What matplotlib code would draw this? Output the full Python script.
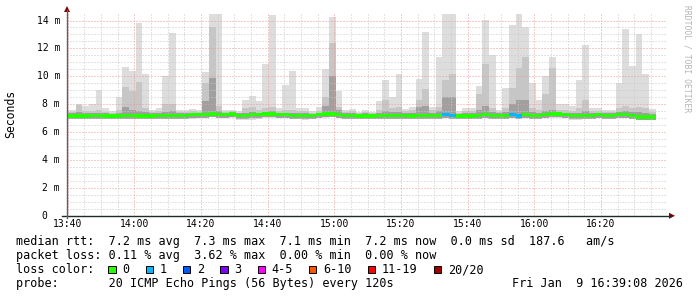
import numpy as np
import matplotlib
matplotlib.use("Agg")
from matplotlib import pyplot as plt
from matplotlib.lines import Line2D
from matplotlib.patches import Polygon, Rectangle
from matplotlib.transforms import blended_transform_factory


plt.rcParams["font.family"] = ["DejaVu Sans Mono"]

# canvas size in pixels
W, H = 697, 297

# time axis in minutes after 13:40, one sample every 2 min
X_START = -10 / 60          # 13:39:50
X_SPAN = 180
FIRST_EDGE = -1 - 35 / 60   # 13:38:25
STEP = 2

tick_minutes = [0, 20, 40, 60, 80, 100, 120, 140, 160]
tick_labels = ["13:40", "14:00", "14:20", "14:40", "15:00",
               "15:20", "15:40", "16:00", "16:20"]

y_ticks = [0, 2, 4, 6, 8, 10, 12, 14]
y_labels = ["0", "2 m", "4 m", "6 m", "8 m", "10 m", "12 m", "14 m"]

# smoke, in ms
rtt_max = [
    7.6, 7.6, 8.0, 7.85, 8.05, 9.0, 7.75, 7.5, 8.55, 10.7,
    10.35, 13.8, 10.15, 7.55, 7.7, 10.0, 13.1, 7.55, 7.6, 7.65,
    7.6, 10.3, 14.45, 14.45, 7.6, 7.6, 7.5, 8.3, 8.6, 8.2,
    10.85, 14.4, 7.7, 9.35, 10.4, 7.75, 7.75, 7.5, 7.8, 10.55,
    14.25, 8.95, 7.55, 7.65, 7.45, 7.6, 7.45, 8.25, 9.7, 8.5,
    10.15, 7.65, 7.8, 9.8, 13.15, 7.8, 11.35, 14.45, 14.45, 7.5,
    7.75, 7.75, 9.3, 14.05, 11.5, 7.55, 9.15, 13.7, 14.45, 13.5,
    9.5, 8.3, 10.05, 11.4, 8.0, 8.05, 7.85, 9.7, 12.25, 7.7,
    7.7, 7.55, 7.55, 9.55, 13.4, 10.75, 13.0, 10.15, 7.65,
]
rtt_mid = [
    7.45, 7.45, 7.95, 7.5, 7.5, 7.6, 7.45, 7.4, 7.6, 9.2,
    8.95, 9.6, 7.7, 7.45, 7.5, 8.0, 8.0, 7.45, 7.45, 7.5,
    7.45, 9.5, 13.5, 7.9, 7.45, 7.5, 7.4, 7.7, 7.8, 7.6,
    7.7, 7.8, 7.5, 7.6, 7.6, 7.5, 7.5, 7.4, 7.5, 8.5,
    12.4, 7.8, 7.45, 7.5, 7.35, 7.45, 7.35, 7.6, 8.3, 7.7,
    7.8, 7.5, 7.55, 8.3, 9.1, 7.55, 7.8, 9.7, 10.2, 7.4,
    7.5, 7.5, 8.7, 10.9, 7.7, 7.45, 7.7, 9.15, 10.6, 11.4,
    7.7, 7.6, 8.7, 10.6, 7.6, 7.6, 7.5, 7.7, 8.3, 7.5,
    7.5, 7.45, 7.45, 7.7, 7.85, 7.7, 7.8, 7.7, 7.45,
]
rtt_inner = [
    7.35, 7.35, 7.45, 7.35, 7.4, 7.4, 7.35, 7.3, 7.4, 7.8,
    7.6, 7.5, 7.45, 7.35, 7.4, 7.45, 7.5, 7.35, 7.35, 7.4,
    7.35, 8.2, 9.9, 7.5, 7.35, 7.4, 7.35, 7.4, 7.45, 7.4,
    7.45, 7.5, 7.4, 7.4, 7.4, 7.4, 7.4, 7.3, 7.4, 7.9,
    10.0, 7.6, 7.35, 7.4, 7.3, 7.35, 7.3, 7.4, 7.5, 7.45,
    7.45, 7.35, 7.4, 7.8, 7.9, 7.4, 7.5, 8.5, 8.5, 7.3,
    7.4, 7.4, 7.6, 7.9, 7.45, 7.35, 7.45, 8.0, 8.3, 8.3,
    7.45, 7.4, 7.5, 7.6, 7.45, 7.4, 7.35, 7.4, 7.5, 7.4,
    7.4, 7.35, 7.35, 7.45, 7.5, 7.45, 7.45, 7.4, 7.3,
]
rtt_min = [
    7.0, 7.0, 6.95, 7.0, 7.0, 7.0, 7.0, 7.0, 7.0, 7.0,
    6.95, 6.95, 7.0, 7.0, 7.0, 7.0, 7.0, 7.0, 7.0, 6.95,
    7.0, 7.0, 7.05, 7.0, 7.0, 7.0, 6.9, 6.9, 6.9, 6.95,
    7.0, 7.0, 7.0, 7.0, 6.95, 6.95, 6.9, 6.95, 7.0, 7.0,
    7.05, 7.0, 7.0, 7.0, 6.95, 7.0, 7.0, 7.0, 7.0, 7.0,
    7.0, 7.0, 7.0, 7.0, 7.0, 7.0, 7.0, 7.0, 7.0, 7.0,
    7.0, 7.0, 6.95, 7.0, 7.0, 7.0, 7.0, 7.0, 7.0, 7.0,
    7.0, 7.0, 7.0, 7.0, 7.0, 7.0, 6.9, 6.9, 6.95, 7.0,
    7.0, 7.0, 7.0, 7.0, 7.0, 7.0, 6.85, 6.85, 6.9,
]
rtt_median = [
    7.15, 7.15, 7.15, 7.15, 7.2, 7.2, 7.15, 7.15, 7.15, 7.2,
    7.2, 7.15, 7.15, 7.15, 7.2, 7.2, 7.2, 7.2, 7.2, 7.25,
    7.25, 7.25, 7.3, 7.25, 7.25, 7.3, 7.2, 7.2, 7.25, 7.25,
    7.3, 7.3, 7.25, 7.25, 7.2, 7.2, 7.2, 7.2, 7.25, 7.3,
    7.3, 7.25, 7.2, 7.2, 7.15, 7.15, 7.15, 7.2, 7.2, 7.2,
    7.2, 7.2, 7.15, 7.2, 7.2, 7.2, 7.2, 7.25, 7.2, 7.15,
    7.15, 7.15, 7.2, 7.25, 7.2, 7.2, 7.2, 7.25, 7.15, 7.25,
    7.2, 7.2, 7.25, 7.3, 7.3, 7.25, 7.2, 7.2, 7.2, 7.2,
    7.25, 7.2, 7.2, 7.25, 7.25, 7.2, 7.1, 7.1, 7.1,
]
# lost pings out of 20 per sample
loss = [0] * 89
for j in (57, 58, 67, 68):
    loss[j] = 1

loss_labels = ["0", "1", "2", "3", "4-5", "6-10", "11-19", "20/20"]
loss_upper = [0, 1, 2, 3, 5, 10, 19, 20]
loss_colors = ["#26ff00", "#00b8ff", "#0059ff", "#7e00ff",
               "#ff00ff", "#ff5500", "#ff0000", "#a10000"]

rtt_stat_names = ["avg", "max", "min", "now", "sd"]
rtt_stat_values = [7.2, 7.3, 7.1, 7.2, 0.0]
rtt_am_s = 187.6
loss_stat_names = ["avg", "max", "min", "now"]
loss_stat_values = [0.11, 3.62, 0.00, 0.00]
probe_text = "20 ICMP Echo Pings (56 Bytes) every 120s"
date_text = "Fri Jan  9 16:39:08 2026"


def px(x, y):
    return x / W, 1 - y / H


def loss_color(n):
    for upper, color in zip(loss_upper, loss_colors):
        if n <= upper:
            return color
    return loss_colors[-1]


def main():
    fig = plt.figure(figsize=(W / 100, H / 100), dpi=100)
    fig.patch.set_facecolor("white")

    y_px = 13.95   # pixels per ms
    y_top = 14.5
    ax = fig.add_axes([67 / W, 1 - 215.8 / H, 600 / W, y_top * y_px / H])
    ax.set_axis_off()
    ax.set_xlim(X_START, X_START + X_SPAN)
    ax.set_ylim(0, y_top)

    n = len(rtt_max)
    edges = FIRST_EDGE + STEP * np.arange(n + 1)
    centers = edges[:-1] + STEP / 2
    med = np.asarray(rtt_median)

    # smoke
    style = {"fill": True, "linewidth": 0}
    ax.stairs(rtt_max, edges, baseline=rtt_min, color="#dddddd",
              zorder=1, **style)
    ax.stairs(rtt_mid, edges, baseline=med, color="#c6c6c6",
              zorder=1.5, **style)
    ax.stairs(rtt_inner, edges, baseline=med - 0.24, color="#a0a0a0",
              zorder=2, **style)

    # grid on top of the smoke
    dots = {"linestyles": (0, (1, 2)), "linewidth": 0.72, "zorder": 3}
    for v in np.arange(0.5, y_top, 0.5):
        color = "#e89a9a" if v % 2 == 0 else "#c8c8c8"
        ax.hlines(v, X_START, X_START + X_SPAN, colors=color, **dots)
    for m in np.arange(-5, X_SPAN, 5):
        if m < X_START:
            continue
        color = "#e89a9a" if m % 20 == 0 else "#c8c8c8"
        ax.vlines(m, 0, y_top, colors=color, **dots)

    # median, coloured by loss
    half = 0.13
    ax.stairs(med + half, edges, baseline=med - half, color=loss_colors[0],
              zorder=4, **style)
    lossy = [j for j in range(n) if loss[j] > 0]
    if lossy:
        ax.bar(centers[lossy], 2 * half, bottom=med[lossy] - half,
               width=STEP, color=[loss_color(loss[j]) for j in lossy],
               linewidth=0, zorder=5)

    # axes and arrows
    x0, y0 = px(62, 215.8)
    x1, _ = px(670, 215.8)
    fig.add_artist(Line2D([x0, x1], [y0, y0], color="#1c2d28", lw=1))
    ax_x, yb = px(67, 218)
    _, yt = px(67, 10)
    fig.add_artist(Line2D([ax_x, ax_x], [yb, yt], color="#606060", lw=1))
    arrow = "#7f0000"
    fig.add_artist(Polygon([px(64, 12), px(70, 12), px(67, 6)],
                           closed=True, color=arrow, lw=0))
    fig.add_artist(Polygon([px(669, 212.8), px(669, 218.8), px(675, 215.8)],
                           closed=True, color=arrow, lw=0))

    # tick labels
    ytrans = blended_transform_factory(fig.transFigure, ax.transData)
    for v, label in zip(y_ticks, y_labels):
        xr = 47 if v == 0 else 60
        fig.text(xr / W, v, label, transform=ytrans, ha="right",
                 va="center", fontsize=7)
    xtrans = blended_transform_factory(ax.transData, fig.transFigure)
    for m, label in zip(tick_minutes, tick_labels):
        fig.text(m, 1 - 224.3 / H, label, transform=xtrans, ha="center",
                 va="center", fontsize=7)

    fig.text(*px(11, 113.5), "Seconds", rotation=90, ha="center",
             va="center", fontsize=8.3)
    fig.text(*px(687, 5), "RRDTOOL / TOBI OETIKER", rotation=270,
             ha="center", va="top", fontsize=5.8, color="#b4b4b4")

    # legend
    fs = 8.5
    cw = 0.602 * fs * 100 / 72
    rtt_parts = [f"{v:.1f} ms {k}" for k, v in
                 zip(rtt_stat_names, rtt_stat_values)]
    line1 = "median rtt:  " + "  ".join(rtt_parts) + f"  {rtt_am_s:.1f}   am/s"
    loss_parts = [f"{v:.2f} % {k}" for k, v in
                  zip(loss_stat_names, loss_stat_values)]
    line2 = "packet loss: " + "  ".join(loss_parts)
    line4 = "probe:       " + probe_text

    fig.text(*px(16, 245.3), line1, va="baseline", fontsize=fs)
    fig.text(*px(16, 259.3), line2, va="baseline", fontsize=fs)
    fig.text(*px(16, 273.3), "loss color:", va="baseline", fontsize=fs)
    fig.text(*px(16, 287.3), line4, va="baseline", fontsize=fs)
    fig.text(*px(683, 287.3), date_text, va="baseline", ha="right",
             fontsize=fs)

    cursor = 16 + 13 * cw
    for label, color in zip(loss_labels, loss_colors):
        bx, by = px(cursor, 273.3)
        fig.add_artist(Rectangle((bx, by), 7.3 / W, 7.3 / H,
                                 facecolor=color, edgecolor="black", lw=0.7))
        tx = cursor + 2 * cw
        fig.text(*px(tx, 273.3), label, va="baseline", fontsize=fs)
        cursor = tx + len(label) * cw + 2.25 * cw

    fig.savefig("out.png", dpi=100, facecolor="white")


if __name__ == "__main__":
    main()
